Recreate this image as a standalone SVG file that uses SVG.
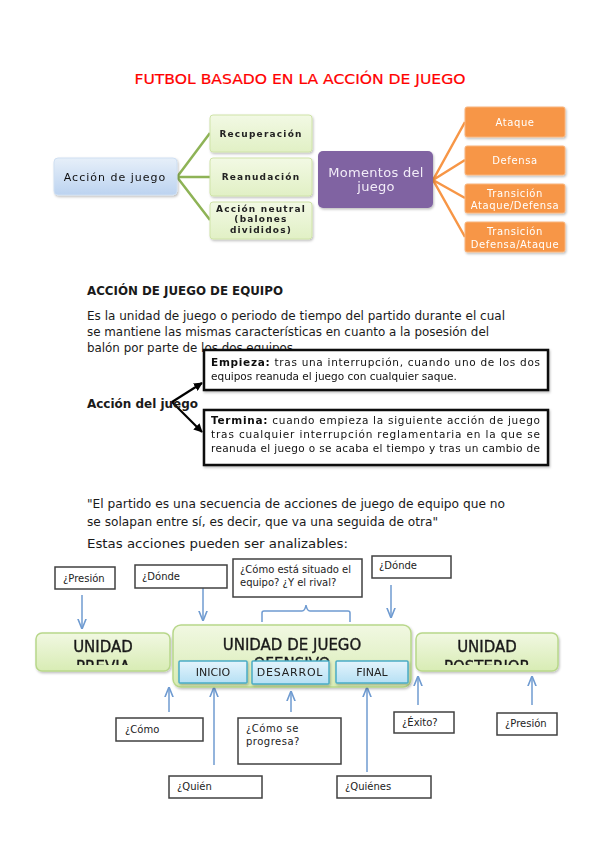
<svg xmlns="http://www.w3.org/2000/svg" width="599" height="848" viewBox="0 0 599 848">
<style>
text{font-family:"DejaVu Sans","Liberation Sans",sans-serif;}
.body{font-size:12px;fill:#1a1a1a;}
.bold{font-weight:bold;}
.sa{font-size:11px;fill:#111;letter-spacing:1px;}
.gtxt{font-size:9px;font-weight:bold;fill:#222;letter-spacing:1.2px;}
.otxt{font-size:10px;fill:#fff;letter-spacing:0.6px;}
.gbox{fill:url(#gGreen);stroke:#cfe3a8;stroke-width:1;}
.obox{fill:#F79646;stroke:#f9b57e;stroke-width:1;}
.gline{stroke:#8EB356;stroke-width:2.5;fill:none;}
.oline{stroke:#F79646;stroke-width:2.5;fill:none;}
.qbox{fill:#fff;stroke:#404040;stroke-width:1.5;}
.qtxt{font-size:10px;fill:#222;}
.tbox{fill:#fff;stroke:#111;stroke-width:2.5;}
.ttxt{font-size:10.5px;fill:#111;}
.ubox{fill:url(#uGreen);stroke:#b8d78a;stroke-width:1.5;}
.utxt{font-size:15px;fill:#1a1a1a;stroke:#1a1a1a;stroke-width:0.35;}
.bbox{fill:url(#bBlue);stroke:#4bacc6;stroke-width:1.5;}
.btxt{font-size:11px;fill:#222;text-anchor:middle;}
.arr{stroke:#6f9bd1;stroke-width:1.5;fill:none;}
.blk{stroke:#000;stroke-width:2.2;fill:none;}
</style>
<defs>
<linearGradient id="gBlue" x1="0" y1="0" x2="0" y2="1"><stop offset="0" stop-color="#e6eff9"/><stop offset="1" stop-color="#bcd3f0"/></linearGradient>
<linearGradient id="gGreen" x1="0" y1="0" x2="0" y2="1"><stop offset="0" stop-color="#f2f9e4"/><stop offset="1" stop-color="#e1f0c5"/></linearGradient>
<linearGradient id="uGreen" x1="0" y1="0" x2="0" y2="1"><stop offset="0" stop-color="#f1f8e2"/><stop offset="1" stop-color="#d8ecb4"/></linearGradient>
<linearGradient id="bBlue" x1="0" y1="0" x2="0" y2="1"><stop offset="0" stop-color="#e4f4fc"/><stop offset="1" stop-color="#b6e0f4"/></linearGradient>
<filter id="sh" x="-10%" y="-10%" width="130%" height="140%"><feDropShadow dx="1" dy="1.5" stdDeviation="1" flood-color="#000" flood-opacity="0.25"/></filter>
<marker id="ah" viewBox="0 0 10 10" refX="9" refY="5" markerWidth="7" markerHeight="7" orient="auto-start-reverse"><path d="M0,1 L10,5 L0,9" fill="none" stroke="#6f9bd1" stroke-width="1.5"/></marker>
<marker id="bh" viewBox="0 0 10 10" refX="9" refY="5" markerWidth="4" markerHeight="4" orient="auto"><path d="M0,0 L10,5 L0,10 z" fill="#000"/></marker>
<clipPath id="clipPrev"><rect x="36" y="633" width="134" height="32"/></clipPath>
<clipPath id="clipPost"><rect x="416" y="633" width="142" height="32"/></clipPath>
<clipPath id="clipOf"><rect x="173" y="625" width="238" height="36"/></clipPath>
</defs>

<rect width="599" height="848" fill="#fff"/>

<!-- Title -->
<text x="300" y="84" text-anchor="middle" font-size="14" fill="#ff0000" stroke="#ff0000" stroke-width="0.2" textLength="331" lengthAdjust="spacingAndGlyphs">FUTBOL BASADO EN LA ACCIÓN DE JUEGO</text>

<!-- Connectors -->
<g id="connectors">
<path class="gline" d="M177,177 L210,133 M177,177 L210,177 M177,177 L210,220"/>
<path class="oline" d="M433,180 L465,122 M433,180 L465,160 M433,180 L465,198 M433,180 L465,237"/>
<line class="blk" x1="172" y1="402" x2="202" y2="383" marker-end="url(#bh)"/>
<line class="blk" x1="172" y1="402" x2="202" y2="432" marker-end="url(#bh)"/>
<line class="arr" x1="82" y1="595" x2="82" y2="628" marker-end="url(#ah)"/>
<line class="arr" x1="203" y1="588" x2="203" y2="620" marker-end="url(#ah)"/>
<line class="arr" x1="391" y1="585" x2="391" y2="617" marker-end="url(#ah)"/>
<path class="arr" d="M262,622 L262,613 Q262,611 264,611 L302,611 Q305,611 306,605 Q307,611 310,611 L348,611 Q350,611 350,613 L350,622"/>
<line class="arr" x1="169" y1="712" x2="169" y2="688" marker-end="url(#ah)"/>
<line class="arr" x1="214" y1="765" x2="214" y2="688" marker-end="url(#ah)"/>
<line class="arr" x1="291" y1="712" x2="291" y2="692" marker-end="url(#ah)"/>
<line class="arr" x1="367" y1="772" x2="367" y2="688" marker-end="url(#ah)"/>
<line class="arr" x1="418" y1="705" x2="418" y2="677" marker-end="url(#ah)"/>
<line class="arr" x1="532" y1="705" x2="532" y2="677" marker-end="url(#ah)"/>
</g>

<!-- SmartArt top -->
<g id="accion-de-juego" filter="url(#sh)">
<rect x="54" y="158" width="123" height="37" rx="4" fill="url(#gBlue)" stroke="#cfdff2"/>
<text class="sa" x="115" y="181" text-anchor="middle">Acción de juego</text>
</g>
<g id="recuperacion" filter="url(#sh)">
<rect class="gbox" x="210" y="115" width="102" height="37" rx="3"/>
<text class="gtxt" x="261" y="137" text-anchor="middle">Recuperación</text>
</g>
<g id="reanudacion" filter="url(#sh)">
<rect class="gbox" x="210" y="158" width="102" height="38" rx="3"/>
<text class="gtxt" x="261" y="180" text-anchor="middle">Reanudación</text>
</g>
<g id="accion-neutral" filter="url(#sh)">
<rect class="gbox" x="210" y="202" width="102" height="37" rx="3"/>
<text class="gtxt" x="261" y="212" text-anchor="middle">Acción neutral</text>
<text class="gtxt" x="261" y="222" text-anchor="middle">(balones</text>
<text class="gtxt" x="261" y="233" text-anchor="middle">divididos)</text>
</g>
<g id="momentos" filter="url(#sh)">
<rect x="318" y="151" width="115" height="57" rx="5" fill="#8064A2"/>
<text x="376" y="177" text-anchor="middle" font-size="13" fill="#f2ecf8" letter-spacing="0.3">Momentos del</text>
<text x="376" y="191" text-anchor="middle" font-size="13" fill="#f2ecf8" letter-spacing="0.3">juego</text>
</g>
<g id="ataque" filter="url(#sh)">
<rect class="obox" x="465" y="107" width="100" height="30" rx="2"/>
<text class="otxt" x="515" y="126" text-anchor="middle">Ataque</text>
</g>
<g id="defensa" filter="url(#sh)">
<rect class="obox" x="465" y="146" width="100" height="29" rx="2"/>
<text class="otxt" x="515" y="164" text-anchor="middle">Defensa</text>
</g>
<g id="trans-ad" filter="url(#sh)">
<rect class="obox" x="465" y="184" width="100" height="29" rx="2"/>
<text class="otxt" x="515" y="197" text-anchor="middle">Transición</text>
<text class="otxt" x="515" y="209" text-anchor="middle">Ataque/Defensa</text>
</g>
<g id="trans-da" filter="url(#sh)">
<rect class="obox" x="465" y="222" width="100" height="30" rx="2"/>
<text class="otxt" x="515" y="235" text-anchor="middle">Transición</text>
<text class="otxt" x="515" y="248" text-anchor="middle">Defensa/Ataque</text>
</g>

<!-- Text section -->
<text class="body bold" x="87" y="295" textLength="196" lengthAdjust="spacingAndGlyphs">ACCIÓN DE JUEGO DE EQUIPO</text>
<text class="body" x="87" y="320" textLength="418" lengthAdjust="spacingAndGlyphs">Es la unidad de juego o periodo de tiempo del partido durante el cual</text>
<text class="body" x="87" y="336" textLength="402" lengthAdjust="spacingAndGlyphs">se mantiene las mismas características en cuanto a la posesión del</text>
<text class="body" x="87" y="352" textLength="206" lengthAdjust="spacingAndGlyphs">balón por parte de los dos equipos</text>
<text class="body bold" x="87" y="408" font-size="13" textLength="111" lengthAdjust="spacingAndGlyphs">Acción del juego</text>

<g id="empieza" filter="url(#sh)">
<rect class="tbox" x="204" y="350" width="344" height="40"/>
<text class="ttxt" x="211" y="366" textLength="329" lengthAdjust="spacing"><tspan font-weight="bold">Empieza:</tspan> tras una interrupción, cuando uno de los dos</text>
<text class="ttxt" x="211" y="380">equipos reanuda el juego con cualquier saque.</text>
</g>
<g id="termina" filter="url(#sh)">
<rect class="tbox" x="204" y="410" width="344" height="55"/>
<text class="ttxt" x="211" y="424" textLength="329" lengthAdjust="spacing"><tspan font-weight="bold">Termina:</tspan> cuando empieza la siguiente acción de juego</text>
<text class="ttxt" x="211" y="438" textLength="329" lengthAdjust="spacing">tras cualquier interrupción reglamentaria en la que se</text>
<text class="ttxt" x="211" y="452" textLength="329" lengthAdjust="spacing">reanuda el juego o se acaba el tiempo y tras un cambio de</text>
</g>

<text class="body" x="87" y="508" textLength="418" lengthAdjust="spacingAndGlyphs">"El partido es una secuencia de acciones de juego de equipo que no</text>
<text class="body" x="87" y="526" textLength="351" lengthAdjust="spacingAndGlyphs">se solapan entre sí, es decir, que va una seguida de otra"</text>
<text class="body" x="87" y="548" textLength="261" lengthAdjust="spacingAndGlyphs">Estas acciones pueden ser analizables:</text>

<!-- Bottom diagram -->
<g id="q-presion-1"><rect class="qbox" x="55" y="567" width="60" height="22"/><text class="qtxt" x="63" y="582">¿Presión</text></g>
<g id="q-donde-1"><rect class="qbox" x="135" y="565" width="92" height="23"/><text class="qtxt" x="142" y="580">¿Dónde</text></g>
<g id="q-situado"><rect class="qbox" x="233" y="559" width="129" height="38"/><text class="qtxt" x="240" y="573">¿Cómo está situado el</text><text class="qtxt" x="240" y="586">equipo? ¿Y el rival?</text></g>
<g id="q-donde-2"><rect class="qbox" x="372" y="556" width="79" height="22"/><text class="qtxt" x="379" y="569">¿Dónde</text></g>

<g id="unidad-previa" filter="url(#sh)">
<rect class="ubox" x="36" y="633" width="134" height="38" rx="6"/>
<g clip-path="url(#clipPrev)">
<text class="utxt" x="103" y="652" text-anchor="middle">UNIDAD</text>
<text class="utxt" x="103" y="672" text-anchor="middle">PREVIA</text>
</g>
</g>
<g id="unidad-ofensivo" filter="url(#sh)">
<rect class="ubox" x="173" y="625" width="238" height="62" rx="8"/>
<text class="utxt" x="292" y="650" text-anchor="middle">UNIDAD DE JUEGO</text>
<g clip-path="url(#clipOf)"><text class="utxt" x="292" y="669" text-anchor="middle">OFENSIVO</text></g>
</g>
<g id="unidad-posterior" filter="url(#sh)">
<rect class="ubox" x="416" y="633" width="142" height="38" rx="6"/>
<g clip-path="url(#clipPost)">
<text class="utxt" x="487" y="652" text-anchor="middle">UNIDAD</text>
<text class="utxt" x="487" y="672" text-anchor="middle">POSTERIOR</text>
</g>
</g>
<g id="inicio" filter="url(#sh)"><rect class="bbox" x="179" y="661" width="68" height="22" rx="1"/><text class="btxt" x="213" y="676">INICIO</text></g>
<g id="desarrol" filter="url(#sh)"><rect class="bbox" x="252" y="661" width="77" height="23" rx="1"/><text class="btxt" x="290" y="676" letter-spacing="0.8">DESARROL</text></g>
<g id="final" filter="url(#sh)"><rect class="bbox" x="336" y="661" width="72" height="22" rx="1"/><text class="btxt" x="372" y="676">FINAL</text></g>

<g id="q-como"><rect class="qbox" x="116" y="718" width="87" height="23"/><text class="qtxt" x="125" y="733">¿Cómo</text></g>
<g id="q-progresa"><rect class="qbox" x="238" y="718" width="103" height="46"/><text class="qtxt" x="246" y="732" letter-spacing="0.5">¿Cómo se</text><text class="qtxt" x="246" y="745" letter-spacing="0.5">progresa?</text></g>
<g id="q-exito"><rect class="qbox" x="394" y="712" width="60" height="21"/><text class="qtxt" x="402" y="726">¿Éxito?</text></g>
<g id="q-presion-2"><rect class="qbox" x="497" y="713" width="60" height="22"/><text class="qtxt" x="505" y="727">¿Presión</text></g>
<g id="q-quien"><rect class="qbox" x="169" y="776" width="93" height="22"/><text class="qtxt" x="177" y="790">¿Quién</text></g>
<g id="q-quienes"><rect class="qbox" x="337" y="776" width="94" height="22"/><text class="qtxt" x="345" y="790">¿Quiénes</text></g>
</svg>
